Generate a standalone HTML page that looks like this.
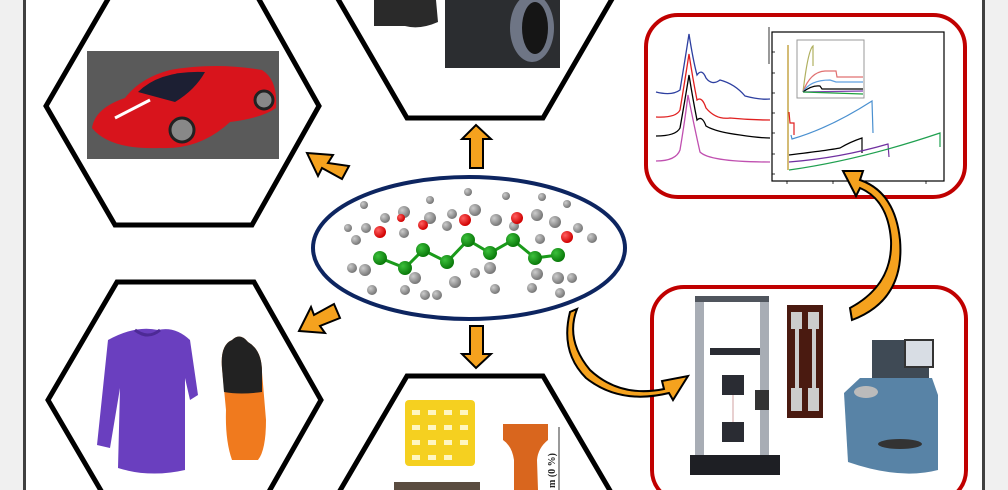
<!DOCTYPE html>
<html><head><meta charset="utf-8"><style>
html,body{margin:0;padding:0;background:#fff;width:1008px;height:490px;overflow:hidden;}
svg{display:block;}
</style></head><body>
<svg width="1008" height="490" viewBox="0 0 1008 490" xmlns="http://www.w3.org/2000/svg" font-family="Liberation Serif, serif">
<defs>
<radialGradient id="gg" cx="35%" cy="35%" r="65%"><stop offset="0" stop-color="#ccc"/><stop offset="1" stop-color="#777"/></radialGradient>
<radialGradient id="gr" cx="35%" cy="35%" r="65%"><stop offset="0" stop-color="#ff6060"/><stop offset="1" stop-color="#d00000"/></radialGradient>
<radialGradient id="gn" cx="35%" cy="35%" r="65%"><stop offset="0" stop-color="#3cc03c"/><stop offset="1" stop-color="#0a7a0a"/></radialGradient>
</defs>
<rect x="0" y="0" width="23" height="490" fill="#f0f0f0"/>
<rect x="23" y="0" width="3" height="490" fill="#404040"/>
<rect x="984" y="0" width="24" height="490" fill="#f0f0f0"/>
<rect x="982" y="0" width="3" height="490" fill="#404040"/>

<g fill="none" stroke="#000" stroke-width="5" stroke-linejoin="miter">
<polygon points="46,106 115,-13 252,-13 319,106 252,225 115,225"/>
<polygon points="338,-1 407,-120 544,-120 612,-1 543,118 407,118"/>
<polygon points="48,400 117,282 254,282 321,400 254,518 117,518"/>
<polygon points="338,494 407,376 543,376 612,494 543,612 407,612"/>
</g>

<rect x="87" y="51" width="192" height="108" fill="#5a5a5a"/>
<path d="M92,128 Q95,108 125,98 Q140,78 170,70 Q215,62 262,70 Q278,80 276,108 Q262,118 230,122 Q200,150 160,148 Q110,150 92,128Z" fill="#d8141c"/>
<path d="M138,92 Q160,70 205,72 Q195,90 175,102 Z" fill="#1c1f33"/>
<path d="M115,118 L150,100" stroke="#fff" stroke-width="3"/>
<circle cx="182" cy="130" r="12" fill="#888" stroke="#222" stroke-width="3"/>
<circle cx="264" cy="100" r="9" fill="#888" stroke="#222" stroke-width="3"/>

<rect x="372" y="0" width="66" height="28" fill="#fff"/>
<path d="M374,0 L436,0 L438,22 Q420,30 405,26 L374,26Z" fill="#2a2a2a"/>
<rect x="445" y="0" width="115" height="68" fill="#2b2d30"/>
<ellipse cx="532" cy="28" rx="22" ry="34" fill="#6e7585"/>
<ellipse cx="535" cy="28" rx="13" ry="26" fill="#151515"/>

<path d="M108,340 Q135,325 158,330 Q175,326 190,340 L198,395 L190,400 L185,378 L185,470 Q150,478 118,468 L120,388 L110,448 L97,445 Z" fill="#6a3fbf"/>
<path d="M135,330 Q148,340 160,330" stroke="#4d2a96" stroke-width="3" fill="none"/>
<path d="M222,368 Q220,345 232,340 Q240,332 248,342 Q262,350 262,372 L266,420 Q266,450 258,460 L232,460 Q225,440 226,410 Z" fill="#f07a1e"/>
<path d="M222,368 Q220,345 232,340 Q240,332 248,342 Q262,350 262,372 L262,392 Q240,395 224,392 Z" fill="#222"/>

<rect x="405" y="400" width="70" height="66" fill="#f5d020" rx="4"/>
<g fill="#fff6c0">
<rect x="412" y="410" width="8" height="5"/><rect x="428" y="410" width="8" height="5"/><rect x="444" y="410" width="8" height="5"/><rect x="460" y="410" width="8" height="5"/>
<rect x="412" y="425" width="8" height="5"/><rect x="428" y="425" width="8" height="5"/><rect x="444" y="425" width="8" height="5"/><rect x="460" y="425" width="8" height="5"/>
<rect x="412" y="440" width="8" height="5"/><rect x="428" y="440" width="8" height="5"/><rect x="444" y="440" width="8" height="5"/><rect x="460" y="440" width="8" height="5"/>
<rect x="412" y="455" width="8" height="5"/><rect x="428" y="455" width="8" height="5"/><rect x="444" y="455" width="8" height="5"/>
</g>
<rect x="394" y="482" width="86" height="8" fill="#5a4c40"/>
<path d="M503,424 L548,424 L548,440 Q538,448 537,460 L538,490 L514,490 L514,460 Q512,446 503,440Z" fill="#d9661e"/>
<line x1="559" y1="427" x2="559" y2="490" stroke="#333" stroke-width="1"/>
<text x="555" y="488" font-size="10" font-weight="bold" transform="rotate(-90 555 488)" fill="#222">m (0 %)</text>

<ellipse cx="469" cy="248" rx="156" ry="71" fill="#fff" stroke="#0d2560" stroke-width="4"/>
<g stroke="#1a9a1a" stroke-width="3" fill="none">
<polyline points="380,258 405,268 423,250 447,262 468,240 490,253 513,240 535,258 558,255"/>
</g>
<g fill="url(#gg)">
<circle cx="366" cy="228" r="5"/><circle cx="356" cy="240" r="5"/><circle cx="385" cy="218" r="5"/><circle cx="404" cy="212" r="6"/><circle cx="430" cy="218" r="6"/><circle cx="452" cy="214" r="5"/><circle cx="475" cy="210" r="6"/><circle cx="496" cy="220" r="6"/><circle cx="537" cy="215" r="6"/><circle cx="555" cy="222" r="6"/><circle cx="578" cy="228" r="5"/><circle cx="592" cy="238" r="5"/>
<circle cx="365" cy="270" r="6"/><circle cx="352" cy="268" r="5"/><circle cx="372" cy="290" r="5"/><circle cx="415" cy="278" r="6"/><circle cx="405" cy="290" r="5"/><circle cx="425" cy="295" r="5"/><circle cx="455" cy="282" r="6"/><circle cx="437" cy="295" r="5"/><circle cx="490" cy="268" r="6"/><circle cx="475" cy="273" r="5"/><circle cx="495" cy="289" r="5"/><circle cx="537" cy="274" r="6"/><circle cx="532" cy="288" r="5"/><circle cx="558" cy="278" r="6"/><circle cx="572" cy="278" r="5"/><circle cx="560" cy="293" r="5"/>
<circle cx="404" cy="233" r="5"/><circle cx="447" cy="226" r="5"/><circle cx="514" cy="226" r="5"/><circle cx="540" cy="239" r="5"/><circle cx="430" cy="200" r="4"/><circle cx="468" cy="192" r="4"/><circle cx="506" cy="196" r="4"/><circle cx="542" cy="197" r="4"/><circle cx="567" cy="204" r="4"/><circle cx="364" cy="205" r="4"/><circle cx="348" cy="228" r="4"/>
</g>
<g fill="url(#gr)">
<circle cx="380" cy="232" r="6"/><circle cx="423" cy="225" r="5"/><circle cx="465" cy="220" r="6"/><circle cx="517" cy="218" r="6"/><circle cx="567" cy="237" r="6"/><circle cx="401" cy="218" r="4"/>
</g>
<g fill="url(#gn)">
<circle cx="380" cy="258" r="7"/><circle cx="405" cy="268" r="7"/><circle cx="423" cy="250" r="7"/><circle cx="447" cy="262" r="7"/><circle cx="468" cy="240" r="7"/><circle cx="490" cy="253" r="7"/><circle cx="513" cy="240" r="7"/><circle cx="535" cy="258" r="7"/><circle cx="558" cy="255" r="7"/>
</g>

<g fill="#f5a21e" stroke="#000" stroke-width="2" stroke-linejoin="miter">
<polygon points="470,168 470,139 462,139 476,125 491,139 483,139 483,168"/>
<polygon points="470,326 483,326 483,354 491,354 476,368 462,354 470,354"/>
<polygon points="349,166 342,179 322,168 318,176 307,153 333,155 328,163"/>
<polygon points="340,318 334,304 314,315 311,307 299,331 325,333 320,326"/>
</g>

<rect x="646" y="15" width="319" height="182" rx="32" fill="none" stroke="#c00000" stroke-width="4"/>
<rect x="652" y="287" width="314" height="215" rx="32" fill="none" stroke="#c00000" stroke-width="4"/>

<g fill="none" stroke-width="1.3">
<path d="M656,92 Q672,96 680,90 Q685,60 689,34 Q693,60 697,75 Q702,68 706,78 Q712,86 720,80 Q735,84 745,96 Q760,100 770,99" stroke="#2d3fa0"/>
<path d="M656,117 Q676,118 680,110 Q685,80 689,54 Q693,80 697,100 Q702,96 706,108 Q716,120 730,118 Q750,120 770,120" stroke="#e02020"/>
<path d="M656,136 Q676,136 680,128 Q685,100 689,75 Q693,100 697,120 Q702,115 706,126 Q716,132 740,135 Q760,138 770,138" stroke="#000"/>
<path d="M656,161 Q676,161 680,150 Q685,120 688,95 Q695,130 700,152 Q710,162 770,162" stroke="#c050b0"/>
</g>
<rect x="772" y="32" width="172" height="149" fill="#fff" stroke="#000" stroke-width="1.2"/>
<line x1="769" y1="27" x2="769" y2="64" stroke="#000" stroke-width="0.8"/>
<g stroke="#000" stroke-width="0.8">
<line x1="772" y1="52" x2="775" y2="52"/><line x1="772" y1="73" x2="775" y2="73"/><line x1="772" y1="93" x2="775" y2="93"/><line x1="772" y1="113" x2="775" y2="113"/><line x1="772" y1="133" x2="775" y2="133"/><line x1="772" y1="154" x2="775" y2="154"/><line x1="772" y1="174" x2="775" y2="174"/>
<line x1="787" y1="181" x2="787" y2="184"/><line x1="833" y1="181" x2="833" y2="184"/><line x1="926" y1="181" x2="926" y2="184"/>
</g>
<rect x="797" y="40" width="67" height="58" fill="#fff" stroke="#999" stroke-width="1"/>
<g fill="none" stroke-width="1.2">
<path d="M788,45 L788,170" stroke="#b8901a"/>
<path d="M803,92 Q808,50 813,46 L813,66" stroke="#b0b060"/>
<path d="M803,92 Q810,72 825,71 L836,71 L837,77 L863,77" stroke="#e07070"/>
<path d="M803,92 Q810,80 830,80 L836,82 L863,82" stroke="#60a0e0"/>
<path d="M803,92 Q812,85 820,86 L822,89 L863,89" stroke="#000"/>
<path d="M803,92 L863,91" stroke="#8040b0"/>
<path d="M803,92 L863,94" stroke="#20a040"/>
<path d="M789,112 L790,123 L794,123 L794,135" stroke="#e02020"/>
<path d="M791,135 L792,139 Q830,128 872,101 L873,133" stroke="#4a90d0"/>
<path d="M789,155 Q830,150 840,148 Q850,142 862,138 L862,153" stroke="#000"/>
<path d="M789,162 Q840,158 888,144 L889,157" stroke="#7030a0"/>
<path d="M789,170 Q860,160 940,133 L940,147" stroke="#20a050"/>
</g>

<rect x="695" y="297" width="9" height="165" fill="#a8adb5"/>
<rect x="760" y="297" width="9" height="165" fill="#a8adb5"/>
<rect x="695" y="296" width="74" height="6" fill="#50555d"/>
<rect x="710" y="348" width="50" height="7" fill="#2a2c33"/>
<rect x="722" y="375" width="22" height="20" fill="#2a2c33"/>
<rect x="722" y="422" width="22" height="20" fill="#2a2c33"/>
<line x1="733" y1="395" x2="733" y2="422" stroke="#d0a0a0" stroke-width="1"/>
<rect x="755" y="390" width="14" height="20" fill="#333"/>
<rect x="690" y="455" width="90" height="20" fill="#1e1f24"/>
<rect x="787" y="305" width="36" height="113" fill="#4a1a10"/>
<rect x="791" y="312" width="11" height="17" fill="#ccc"/><rect x="795" y="329" width="4" height="63" fill="#ccc"/><rect x="791" y="388" width="11" height="23" fill="#ccc"/>
<rect x="808" y="312" width="11" height="17" fill="#ccc"/><rect x="812" y="329" width="4" height="63" fill="#ccc"/><rect x="808" y="388" width="11" height="23" fill="#ccc"/>
<rect x="872" y="340" width="57" height="40" fill="#3f4a55"/>
<rect x="905" y="340" width="28" height="27" fill="#d8dde4" stroke="#333" stroke-width="2"/>
<path d="M844,393 L860,378 L932,378 L938,395 L938,470 Q900,480 848,462 Z" fill="#5883a6"/>
<ellipse cx="866" cy="392" rx="12" ry="6" fill="#bbb"/>
<ellipse cx="900" cy="444" rx="22" ry="5" fill="#333"/>

<path d="M577,309 Q565,340 590,370 Q620,398 664,389 L662,381 L688,376 L673,400 L669,393 Q620,405 586,378 Q560,352 570,312 Z" fill="#f5a21e" stroke="#000" stroke-width="2"/>
<path d="M852,320 Q905,300 900,240 Q895,192 860,180 L863,171 L843,171 L856,196 L860,188 Q888,200 891,240 Q893,285 850,308 Z" fill="#f5a21e" stroke="#000" stroke-width="2"/>
</svg>
</body></html>
